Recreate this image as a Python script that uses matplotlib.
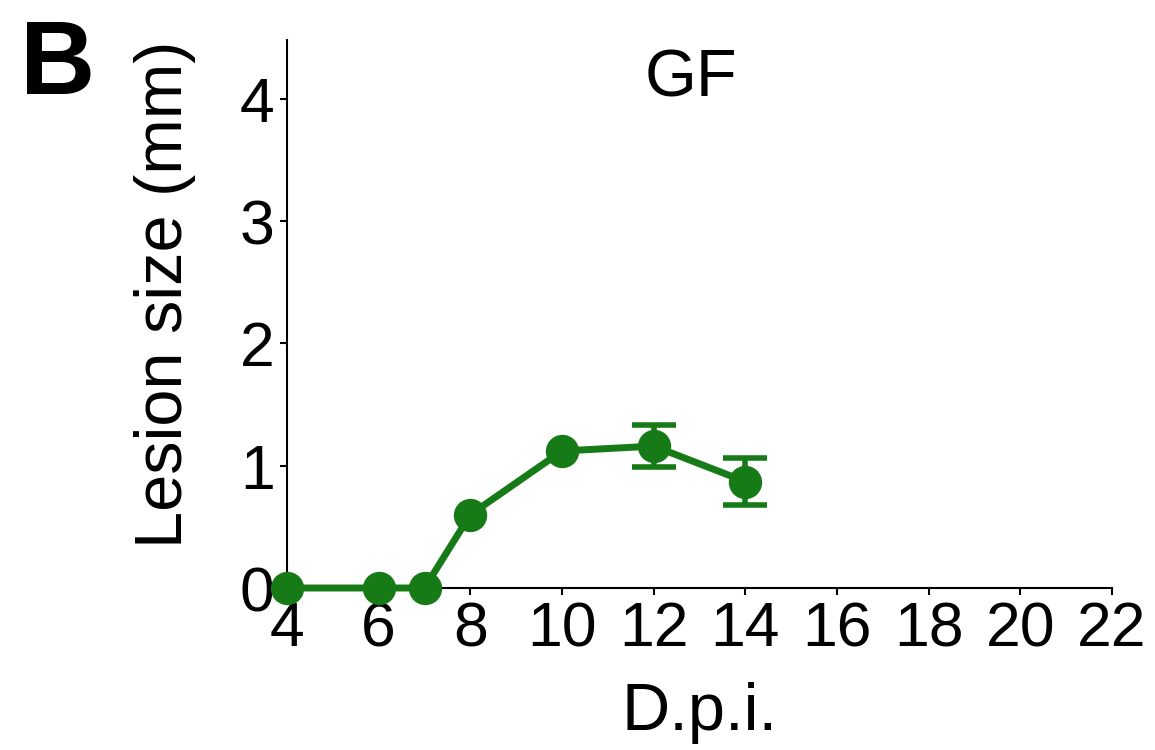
import numpy as np
import matplotlib
matplotlib.use("Agg")
import matplotlib.pyplot as plt

plt.rcParams['font.family'] = ['Liberation Sans', 'DejaVu Sans']

# lesion size over days post inoculation
dpi_days = [4, 6, 7, 8, 10, 12, 14]
lesion = [0.0, 0.0, 0.0, 0.60, 1.12, 1.16, 0.87]
lesion_err = [0.0, 0.0, 0.0, 0.0, 0.0, 0.17, 0.19]
xticks = [4, 6, 8, 10, 12, 14, 16, 18, 20, 22]
yticks = [0, 1, 2, 3, 4]

green = '#167a16'

fig = plt.figure(figsize=(11.55, 7.5), dpi=100)
ax = fig.add_axes([0.2485, 0.216, 0.7143, 0.7307])

ax.plot(dpi_days, lesion, color=green, lw=5, marker='o', markersize=23,
        clip_on=False, zorder=3)

# error bars only where there is a visible error
x = np.array(dpi_days)
y = np.array(lesion)
e = np.array(lesion_err)
m = e > 0
ax.errorbar(x[m], y[m], yerr=e[m], fmt='none', ecolor=green,
            elinewidth=4, capsize=16, capthick=4, zorder=3)

ax.set_xlim(4, 22)
ax.set_ylim(0, 4.48)
ax.set_xticks(xticks)
ax.set_yticks(yticks)
ax.tick_params(labelsize=45, length=5, width=1.5, pad=4)
ax.spines['top'].set_visible(False)
ax.spines['right'].set_visible(False)
ax.spines['left'].set_linewidth(1.5)
ax.spines['bottom'].set_linewidth(1.5)

ax.set_xlabel('D.p.i.', fontsize=48, labelpad=16)
ax.set_ylabel('Lesion size (mm)', fontsize=48)
ax.yaxis.set_label_coords(-0.11, 0.535)
ax.text(0.49, 0.896, 'GF', transform=ax.transAxes, fontsize=48,
        ha='center', va='baseline')

fig.text(0.017, 0.975, 'B', fontsize=75, fontweight='bold', va='top', ha='left')

fig.savefig('out.png', dpi=100)
